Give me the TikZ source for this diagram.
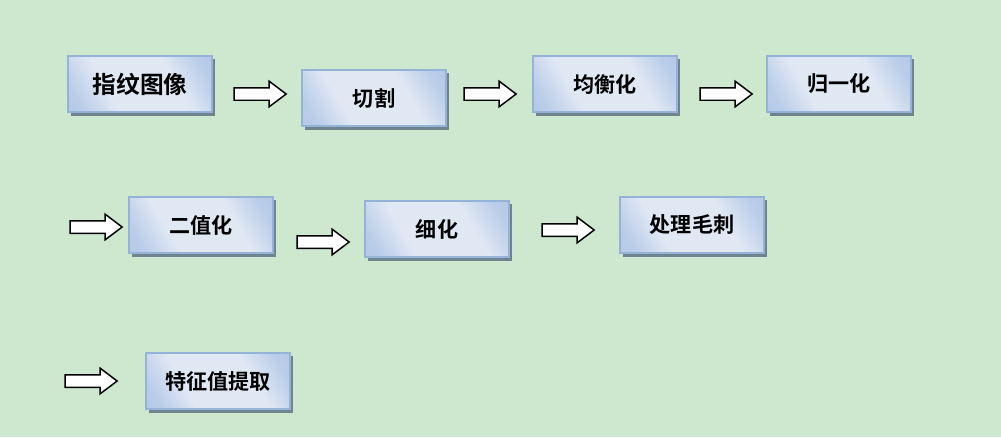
\documentclass[tikz,border=0pt]{standalone}
\usepackage{fontspec}
\newfontfamily\cjk{Noto Sans CJK SC}[BoldFont={* Bold}]
\definecolor{stepGreen}{HTML}{CDE8CE}
\definecolor{stepEdge}{HTML}{95B3D7}
\definecolor{stepDark}{HTML}{A9C1E4}
\definecolor{stepLight}{HTML}{E0E8F4}
\usetikzlibrary{shapes.arrows, shadows, positioning}
\pgfdeclareverticalshading{stepshade}{100bp}{color(0bp)=(stepDark); color(22bp)=(stepDark!70!stepLight); color(36bp)=(stepLight); color(64bp)=(stepLight); color(78bp)=(stepDark!70!stepLight); color(100bp)=(stepDark)}

\begin{document}
\begin{tikzpicture}[
        x=0.02cm, y=-0.02cm,
        stepbox/.style={
          rectangle,
          draw=stepEdge,
          line width=1.4pt,
          shading=stepshade,
          shading angle=-60,
          minimum width=2.88cm,
          minimum height=1.13cm,
          inner sep=0pt,
          font=\cjk\bfseries\fontsize{12pt}{14pt}\selectfont,
          drop shadow={shadow xshift=1.5pt, shadow yshift=-2pt, fill=black!40!stepEdge, opacity=0.8},
        },
        bigstep/.style={stepbox, font=\cjk\bfseries\fontsize{13.5pt}{16pt}\selectfont},
        fatarrow/.style={
          single arrow,
          draw=black,
          fill=white,
          line width=0.85pt,
          minimum height=1.04cm,
          inner xsep=0pt,
          inner ysep=0.11cm,
          single arrow head extend=0.13cm,
          single arrow tip angle=74,
        },
      ]
        \useasboundingbox (0,0) rectangle (1001,437);
        \fill[stepGreen] (0,0) rectangle (1001,437);

        % first row
        \node[bigstep] (image) at (140,84) {指纹图像};
        \node[stepbox] (cut) at (374,98) {切割};
        \node[stepbox] (equal) at (605,84) {均衡化};
        \node[stepbox] (norm) at (839,84) {归一化};

        % second row
        \node[stepbox] (binary) at (201,225) {二值化};
        \node[stepbox] (thin) at (437,229) {细化};
        \node[stepbox] (burr) at (692,225) {处理毛刺};

        % third row
        \node[stepbox] (feature) at (218,381) {特征值提取};

        % arrows between the steps
        \node[fatarrow] (a1) at (256,94) {};
        \node[fatarrow] (a2) at (486,94) {};
        \node[fatarrow] (a3) at (722,94) {};
        \node[fatarrow] (a4) at (92,227) {};
        \node[fatarrow] (a5) at (319,242) {};
        \node[fatarrow] (a6) at (564,230) {};
        \node[fatarrow] (a7) at (87,381) {};
      \end{tikzpicture}
\end{document}
